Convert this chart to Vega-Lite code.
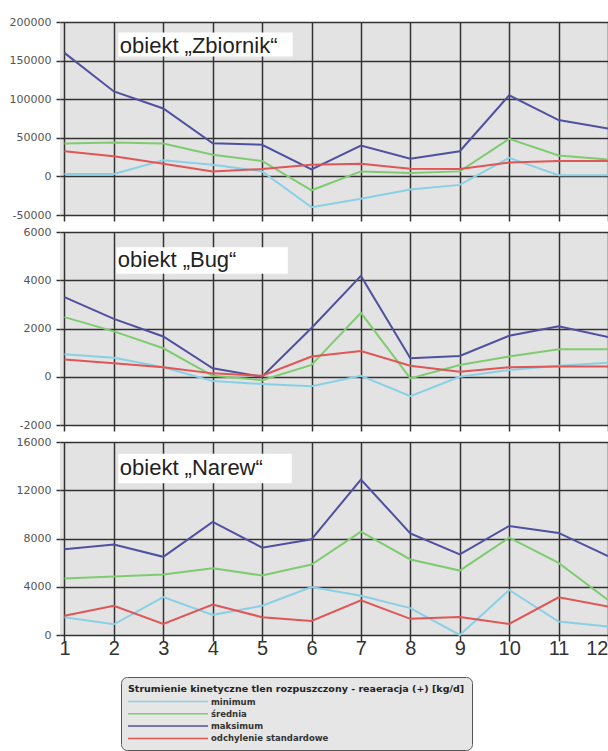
{
  "$schema": "https://vega.github.io/schema/vega-lite/v6.json",
  "background": "white",
  "padding": {"left": 9, "top": 16, "right": 0, "bottom": 0},
  "spacing": 17,
  "bounds": "flush",
  "datasets": {
    "d": [
      {"panel": "Zbiornik", "month": 1, "series": "minimum", "value": 3000},
      {"panel": "Zbiornik", "month": 2, "series": "minimum", "value": 3000},
      {"panel": "Zbiornik", "month": 3, "series": "minimum", "value": 21000},
      {"panel": "Zbiornik", "month": 4, "series": "minimum", "value": 15000},
      {"panel": "Zbiornik", "month": 5, "series": "minimum", "value": 6500},
      {"panel": "Zbiornik", "month": 6, "series": "minimum", "value": -40000},
      {"panel": "Zbiornik", "month": 7, "series": "minimum", "value": -29000},
      {"panel": "Zbiornik", "month": 8, "series": "minimum", "value": -17000},
      {"panel": "Zbiornik", "month": 9, "series": "minimum", "value": -11000},
      {"panel": "Zbiornik", "month": 10, "series": "minimum", "value": 24000},
      {"panel": "Zbiornik", "month": 11, "series": "minimum", "value": 1500},
      {"panel": "Zbiornik", "month": 12, "series": "minimum", "value": 1500},
      {"panel": "Zbiornik", "month": 1, "series": "średnia", "value": 42600},
      {"panel": "Zbiornik", "month": 2, "series": "średnia", "value": 44000},
      {"panel": "Zbiornik", "month": 3, "series": "średnia", "value": 42600},
      {"panel": "Zbiornik", "month": 4, "series": "średnia", "value": 28000},
      {"panel": "Zbiornik", "month": 5, "series": "średnia", "value": 20000},
      {"panel": "Zbiornik", "month": 6, "series": "średnia", "value": -18000},
      {"panel": "Zbiornik", "month": 7, "series": "średnia", "value": 6500},
      {"panel": "Zbiornik", "month": 8, "series": "średnia", "value": 4300},
      {"panel": "Zbiornik", "month": 9, "series": "średnia", "value": 6500},
      {"panel": "Zbiornik", "month": 10, "series": "średnia", "value": 48700},
      {"panel": "Zbiornik", "month": 11, "series": "średnia", "value": 27000},
      {"panel": "Zbiornik", "month": 12, "series": "średnia", "value": 22000},
      {"panel": "Zbiornik", "month": 1, "series": "maksimum", "value": 160000},
      {"panel": "Zbiornik", "month": 2, "series": "maksimum", "value": 110000},
      {"panel": "Zbiornik", "month": 3, "series": "maksimum", "value": 88000},
      {"panel": "Zbiornik", "month": 4, "series": "maksimum", "value": 43000},
      {"panel": "Zbiornik", "month": 5, "series": "maksimum", "value": 41000},
      {"panel": "Zbiornik", "month": 6, "series": "maksimum", "value": 9000},
      {"panel": "Zbiornik", "month": 7, "series": "maksimum", "value": 40000},
      {"panel": "Zbiornik", "month": 8, "series": "maksimum", "value": 23000},
      {"panel": "Zbiornik", "month": 9, "series": "maksimum", "value": 32600},
      {"panel": "Zbiornik", "month": 10, "series": "maksimum", "value": 105000},
      {"panel": "Zbiornik", "month": 11, "series": "maksimum", "value": 73000},
      {"panel": "Zbiornik", "month": 12, "series": "maksimum", "value": 62000},
      {"panel": "Zbiornik", "month": 1, "series": "odchylenie standardowe", "value": 32600},
      {"panel": "Zbiornik", "month": 2, "series": "odchylenie standardowe", "value": 26000},
      {"panel": "Zbiornik", "month": 3, "series": "odchylenie standardowe", "value": 16500},
      {"panel": "Zbiornik", "month": 4, "series": "odchylenie standardowe", "value": 6500},
      {"panel": "Zbiornik", "month": 5, "series": "odchylenie standardowe", "value": 9600},
      {"panel": "Zbiornik", "month": 6, "series": "odchylenie standardowe", "value": 15000},
      {"panel": "Zbiornik", "month": 7, "series": "odchylenie standardowe", "value": 16500},
      {"panel": "Zbiornik", "month": 8, "series": "odchylenie standardowe", "value": 10000},
      {"panel": "Zbiornik", "month": 9, "series": "odchylenie standardowe", "value": 9600},
      {"panel": "Zbiornik", "month": 10, "series": "odchylenie standardowe", "value": 18000},
      {"panel": "Zbiornik", "month": 11, "series": "odchylenie standardowe", "value": 20000},
      {"panel": "Zbiornik", "month": 12, "series": "odchylenie standardowe", "value": 20000},
      {"panel": "Bug", "month": 1, "series": "minimum", "value": 930},
      {"panel": "Bug", "month": 2, "series": "minimum", "value": 790},
      {"panel": "Bug", "month": 3, "series": "minimum", "value": 390},
      {"panel": "Bug", "month": 4, "series": "minimum", "value": -180},
      {"panel": "Bug", "month": 5, "series": "minimum", "value": -300},
      {"panel": "Bug", "month": 6, "series": "minimum", "value": -390},
      {"panel": "Bug", "month": 7, "series": "minimum", "value": 40},
      {"panel": "Bug", "month": 8, "series": "minimum", "value": -810},
      {"panel": "Bug", "month": 9, "series": "minimum", "value": 0},
      {"panel": "Bug", "month": 10, "series": "minimum", "value": 280},
      {"panel": "Bug", "month": 11, "series": "minimum", "value": 460},
      {"panel": "Bug", "month": 12, "series": "minimum", "value": 580},
      {"panel": "Bug", "month": 1, "series": "średnia", "value": 2470},
      {"panel": "Bug", "month": 2, "series": "średnia", "value": 1880},
      {"panel": "Bug", "month": 3, "series": "średnia", "value": 1180},
      {"panel": "Bug", "month": 4, "series": "średnia", "value": 40},
      {"panel": "Bug", "month": 5, "series": "średnia", "value": -140},
      {"panel": "Bug", "month": 6, "series": "średnia", "value": 490},
      {"panel": "Bug", "month": 7, "series": "średnia", "value": 2650},
      {"panel": "Bug", "month": 8, "series": "średnia", "value": -70},
      {"panel": "Bug", "month": 9, "series": "średnia", "value": 490},
      {"panel": "Bug", "month": 10, "series": "średnia", "value": 840},
      {"panel": "Bug", "month": 11, "series": "średnia", "value": 1140},
      {"panel": "Bug", "month": 12, "series": "średnia", "value": 1140},
      {"panel": "Bug", "month": 1, "series": "maksimum", "value": 3300},
      {"panel": "Bug", "month": 2, "series": "maksimum", "value": 2400},
      {"panel": "Bug", "month": 3, "series": "maksimum", "value": 1670},
      {"panel": "Bug", "month": 4, "series": "maksimum", "value": 350},
      {"panel": "Bug", "month": 5, "series": "maksimum", "value": 0},
      {"panel": "Bug", "month": 6, "series": "maksimum", "value": 2020},
      {"panel": "Bug", "month": 7, "series": "maksimum", "value": 4180},
      {"panel": "Bug", "month": 8, "series": "maksimum", "value": 770},
      {"panel": "Bug", "month": 9, "series": "maksimum", "value": 860},
      {"panel": "Bug", "month": 10, "series": "maksimum", "value": 1700},
      {"panel": "Bug", "month": 11, "series": "maksimum", "value": 2090},
      {"panel": "Bug", "month": 12, "series": "maksimum", "value": 1650},
      {"panel": "Bug", "month": 1, "series": "odchylenie standardowe", "value": 720},
      {"panel": "Bug", "month": 2, "series": "odchylenie standardowe", "value": 560},
      {"panel": "Bug", "month": 3, "series": "odchylenie standardowe", "value": 390},
      {"panel": "Bug", "month": 4, "series": "odchylenie standardowe", "value": 140},
      {"panel": "Bug", "month": 5, "series": "odchylenie standardowe", "value": 40},
      {"panel": "Bug", "month": 6, "series": "odchylenie standardowe", "value": 840},
      {"panel": "Bug", "month": 7, "series": "odchylenie standardowe", "value": 1070},
      {"panel": "Bug", "month": 8, "series": "odchylenie standardowe", "value": 460},
      {"panel": "Bug", "month": 9, "series": "odchylenie standardowe", "value": 210},
      {"panel": "Bug", "month": 10, "series": "odchylenie standardowe", "value": 390},
      {"panel": "Bug", "month": 11, "series": "odchylenie standardowe", "value": 420},
      {"panel": "Bug", "month": 12, "series": "odchylenie standardowe", "value": 420},
      {"panel": "Narew", "month": 1, "series": "minimum", "value": 1475},
      {"panel": "Narew", "month": 2, "series": "minimum", "value": 890},
      {"panel": "Narew", "month": 3, "series": "minimum", "value": 3150},
      {"panel": "Narew", "month": 4, "series": "minimum", "value": 1670},
      {"panel": "Narew", "month": 5, "series": "minimum", "value": 2420},
      {"panel": "Narew", "month": 6, "series": "minimum", "value": 3980},
      {"panel": "Narew", "month": 7, "series": "minimum", "value": 3260},
      {"panel": "Narew", "month": 8, "series": "minimum", "value": 2230},
      {"panel": "Narew", "month": 9, "series": "minimum", "value": 0},
      {"panel": "Narew", "month": 10, "series": "minimum", "value": 3730},
      {"panel": "Narew", "month": 11, "series": "minimum", "value": 1110},
      {"panel": "Narew", "month": 12, "series": "minimum", "value": 700},
      {"panel": "Narew", "month": 1, "series": "średnia", "value": 4680},
      {"panel": "Narew", "month": 2, "series": "średnia", "value": 4840},
      {"panel": "Narew", "month": 3, "series": "średnia", "value": 5010},
      {"panel": "Narew", "month": 4, "series": "średnia", "value": 5540},
      {"panel": "Narew", "month": 5, "series": "średnia", "value": 4930},
      {"panel": "Narew", "month": 6, "series": "średnia", "value": 5840},
      {"panel": "Narew", "month": 7, "series": "średnia", "value": 8570},
      {"panel": "Narew", "month": 8, "series": "średnia", "value": 6260},
      {"panel": "Narew", "month": 9, "series": "średnia", "value": 5340},
      {"panel": "Narew", "month": 10, "series": "średnia", "value": 8070},
      {"panel": "Narew", "month": 11, "series": "średnia", "value": 5980},
      {"panel": "Narew", "month": 12, "series": "średnia", "value": 2900},
      {"panel": "Narew", "month": 1, "series": "maksimum", "value": 7100},
      {"panel": "Narew", "month": 2, "series": "maksimum", "value": 7510},
      {"panel": "Narew", "month": 3, "series": "maksimum", "value": 6480},
      {"panel": "Narew", "month": 4, "series": "maksimum", "value": 9380},
      {"panel": "Narew", "month": 5, "series": "maksimum", "value": 7240},
      {"panel": "Narew", "month": 6, "series": "maksimum", "value": 7930},
      {"panel": "Narew", "month": 7, "series": "maksimum", "value": 12890},
      {"panel": "Narew", "month": 8, "series": "maksimum", "value": 8430},
      {"panel": "Narew", "month": 9, "series": "maksimum", "value": 6680},
      {"panel": "Narew", "month": 10, "series": "maksimum", "value": 9040},
      {"panel": "Narew", "month": 11, "series": "maksimum", "value": 8460},
      {"panel": "Narew", "month": 12, "series": "maksimum", "value": 6540},
      {"panel": "Narew", "month": 1, "series": "odchylenie standardowe", "value": 1590},
      {"panel": "Narew", "month": 2, "series": "odchylenie standardowe", "value": 2420},
      {"panel": "Narew", "month": 3, "series": "odchylenie standardowe", "value": 920},
      {"panel": "Narew", "month": 4, "series": "odchylenie standardowe", "value": 2530},
      {"panel": "Narew", "month": 5, "series": "odchylenie standardowe", "value": 1475},
      {"panel": "Narew", "month": 6, "series": "odchylenie standardowe", "value": 1170},
      {"panel": "Narew", "month": 7, "series": "odchylenie standardowe", "value": 2870},
      {"panel": "Narew", "month": 8, "series": "odchylenie standardowe", "value": 1340},
      {"panel": "Narew", "month": 9, "series": "odchylenie standardowe", "value": 1500},
      {"panel": "Narew", "month": 10, "series": "odchylenie standardowe", "value": 920},
      {"panel": "Narew", "month": 11, "series": "odchylenie standardowe", "value": 3120},
      {"panel": "Narew", "month": 12, "series": "odchylenie standardowe", "value": 2370}
    ]
  },
  "vconcat": [
    {
      "width": 548,
      "height": 193,
      "layer": [
        {
          "data": {"name": "d"},
          "transform": [{"filter": "datum.panel == 'Zbiornik'"}],
          "mark": {"type": "line", "strokeWidth": 2},
          "encoding": {
            "x": {"field": "month", "type": "quantitative", "scale": {"domain": [0.91, 12], "nice": false, "zero": false},
                  "axis": {"values": [1,2,3,4,5,6,7,8,9,10,11,12], "labels": false, "title": null, "tickSize": 6}},
            "y": {"field": "value", "type": "quantitative", "scale": {"domain": [-50000, 200000], "nice": false},
                  "axis": {"values": [-50000, 0, 50000, 100000, 150000, 200000], "title": null, "labelExpr": "'' + datum.value", "labelOverlap": false, "labelBound": false}},
            "color": {"field": "series", "type": "nominal",
                      "scale": {"domain": ["minimum", "średnia", "maksimum", "odchylenie standardowe"], "range": ["#8ad0e4", "#7fcc70", "#5050a0", "#e05555"]},
                      "legend": {"title": "Strumienie kinetyczne tlen rozpuszczony - reaeracja (+) [kg/d]", "symbolType": "M-8,0H8", "symbolOffset": 34, "labelOffset": 37}}
          }
        },
        {
          "data": {"values": [{}]},
          "mark": {"type": "rect", "fill": "white"},
          "encoding": {
            "x": {"datum": 2.09, "type": "quantitative", "axis": {"values": [1,2,3,4,5,6,7,8,9,10,11,12], "labels": false, "title": null, "tickSize": 6}}, "x2": {"datum": 5.62},
            "y": {"datum": 186400, "type": "quantitative", "axis": {"values": [-50000, 0, 50000, 100000, 150000, 200000], "title": null, "labelExpr": "'' + datum.value", "labelOverlap": false, "labelBound": false}}, "y2": {"datum": 155300}
          }
        },
        {
          "data": {"values": [{}]},
          "mark": {"type": "text", "text": "obiekt „Zbiornik“", "align": "left", "baseline": "alphabetic", "font": "Liberation Sans", "fontSize": 22, "color": "#222"},
          "encoding": {
            "x": {"datum": 2.12, "type": "quantitative", "axis": {"values": [1,2,3,4,5,6,7,8,9,10,11,12], "labels": false, "title": null, "tickSize": 6}},
            "y": {"datum": 159500, "type": "quantitative", "axis": {"values": [-50000, 0, 50000, 100000, 150000, 200000], "title": null, "labelExpr": "'' + datum.value", "labelOverlap": false, "labelBound": false}}
          }
        }
      ]
    },
    {
      "width": 548,
      "height": 193,
      "layer": [
        {
          "data": {"name": "d"},
          "transform": [{"filter": "datum.panel == 'Bug'"}],
          "mark": {"type": "line", "strokeWidth": 2},
          "encoding": {
            "x": {"field": "month", "type": "quantitative", "scale": {"domain": [0.91, 12], "nice": false, "zero": false},
                  "axis": {"values": [1,2,3,4,5,6,7,8,9,10,11,12], "labels": false, "title": null, "tickSize": 6}},
            "y": {"field": "value", "type": "quantitative", "scale": {"domain": [-2000, 6000], "nice": false},
                  "axis": {"values": [-2000, 0, 2000, 4000, 6000], "title": null, "labelExpr": "'' + datum.value", "labelOverlap": false, "labelBound": false}},
            "color": {"field": "series", "type": "nominal",
                      "scale": {"domain": ["minimum", "średnia", "maksimum", "odchylenie standardowe"], "range": ["#8ad0e4", "#7fcc70", "#5050a0", "#e05555"]},
                      "legend": {"title": "Strumienie kinetyczne tlen rozpuszczony - reaeracja (+) [kg/d]", "symbolType": "M-8,0H8", "symbolOffset": 34, "labelOffset": 37}}
          }
        },
        {
          "data": {"values": [{}]},
          "mark": {"type": "rect", "fill": "white"},
          "encoding": {
            "x": {"datum": 2.05, "type": "quantitative"}, "x2": {"datum": 5.52},
            "y": {"datum": 5370, "type": "quantitative"}, "y2": {"datum": 4270}
          }
        },
        {
          "data": {"values": [{}]},
          "mark": {"type": "text", "text": "obiekt „Bug“", "align": "left", "baseline": "alphabetic", "font": "Liberation Sans", "fontSize": 22, "color": "#222"},
          "encoding": {
            "x": {"datum": 2.08, "type": "quantitative"},
            "y": {"datum": 4560, "type": "quantitative"}
          }
        }
      ]
    },
    {
      "width": 548,
      "height": 193,
      "layer": [
        {
          "data": {"name": "d"},
          "transform": [{"filter": "datum.panel == 'Narew'"}],
          "mark": {"type": "line", "strokeWidth": 2},
          "encoding": {
            "x": {"field": "month", "type": "quantitative", "scale": {"domain": [0.91, 12], "nice": false, "zero": false},
                  "axis": {"values": [1,2,3,4,5,6,7,8,9,10,11,12], "title": null, "tickSize": 6, "labelFont": "Liberation Sans", "labelFontSize": 20, "labelColor": "#333", "labelPadding": -3,
                           "labelAlign": {"condition": {"test": "datum.value == 12", "value": "right"}, "value": "center"}}},
            "y": {"field": "value", "type": "quantitative", "scale": {"domain": [0, 16000], "nice": false},
                  "axis": {"values": [0, 4000, 8000, 12000, 16000], "title": null, "labelExpr": "'' + datum.value", "labelOverlap": false, "labelBound": false}},
            "color": {"field": "series", "type": "nominal",
                      "scale": {"domain": ["minimum", "średnia", "maksimum", "odchylenie standardowe"], "range": ["#8ad0e4", "#7fcc70", "#5050a0", "#e05555"]},
                      "legend": {"title": "Strumienie kinetyczne tlen rozpuszczony - reaeracja (+) [kg/d]", "symbolType": "M-8,0H8", "symbolOffset": 34, "labelOffset": 37}}
          }
        },
        {
          "data": {"values": [{}]},
          "mark": {"type": "rect", "fill": "white"},
          "encoding": {
            "x": {"datum": 2.09, "type": "quantitative"}, "x2": {"datum": 5.6},
            "y": {"datum": 15020, "type": "quantitative"}, "y2": {"datum": 12580}
          }
        },
        {
          "data": {"values": [{}]},
          "mark": {"type": "text", "text": "obiekt „Narew“", "align": "left", "baseline": "alphabetic", "font": "Liberation Sans", "fontSize": 22, "color": "#222"},
          "encoding": {
            "x": {"datum": 2.12, "type": "quantitative"},
            "y": {"datum": 13300, "type": "quantitative"}
          }
        }
      ]
    }
  ],
  "config": {
    "view": {"stroke": null, "fill": "#e3e3e3"},
    "axis": {
      "grid": true, "gridColor": "#333333", "gridWidth": 1.5, "gridOpacity": 1,
      "domain": false, "tickColor": "#333333", "tickWidth": 1.5, "labelOverlap": false,
      "labelFont": "DejaVu Sans", "labelFontSize": 11, "labelColor": "#555555"
    },
    "axisY": {"tickSize": 4, "labelPadding": 5},
    "legend": {
      "orient": "none", "legendX": 61, "legendY": 655, "direction": "vertical",
      "fillColor": "#e6e6e6", "strokeColor": "#555555", "cornerRadius": 6, "padding": 7,
      "titleFont": "DejaVu Sans", "titleFontSize": 9.5, "titleFontWeight": "bold", "titleColor": "#222222", "titleLimit": 600, "titlePadding": 2,
      "labelFont": "DejaVu Sans", "labelFontSize": 8.5, "labelFontWeight": "bold", "labelColor": "#333333",
      "symbolSize": 100, "symbolStrokeWidth": 1.5, "rowPadding": 1.3
    }
  }
}
